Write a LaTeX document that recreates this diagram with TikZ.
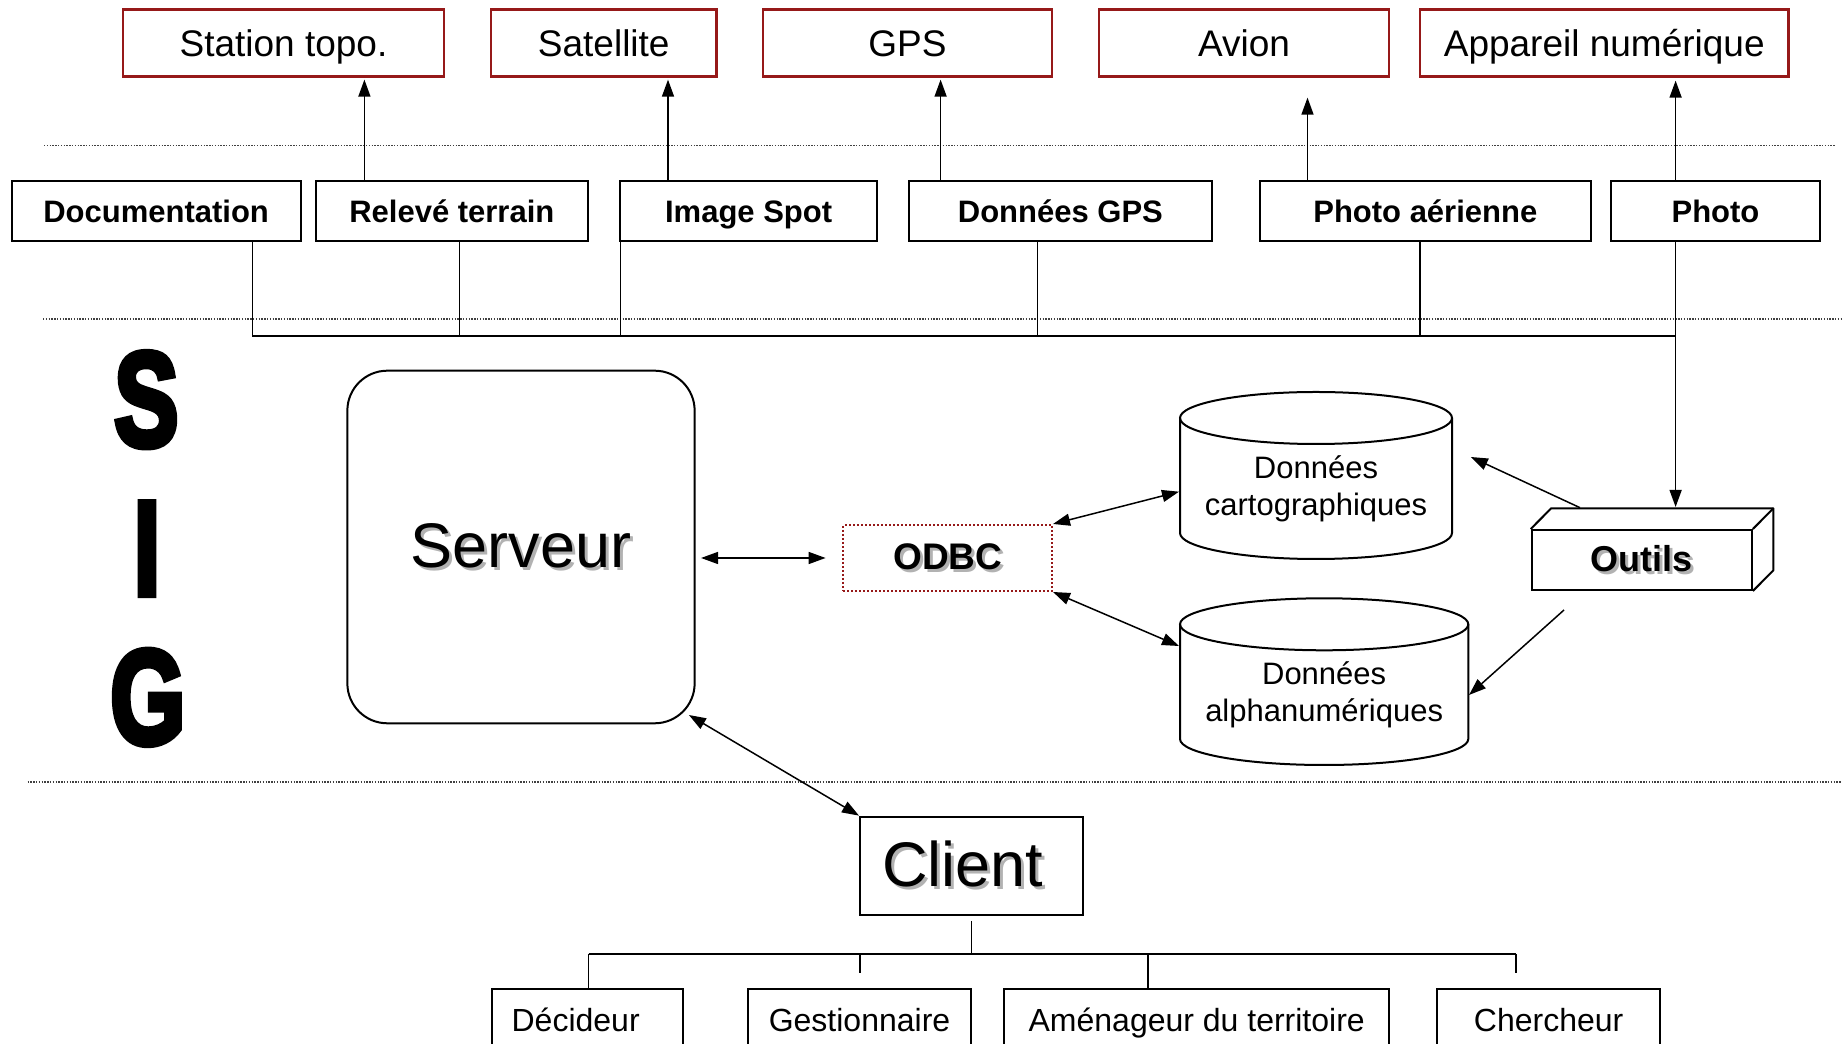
\documentclass[tikz,border=0pt]{standalone}
\usepackage{fontspec}
\setmainfont{Liberation Sans}
\newfontfamily\sigfont[FakeBold=5]{Liberation Sans Bold}
\usetikzlibrary{arrows.meta}
\definecolor{dred}{RGB}{150,25,25}
\newcommand\shtext[1]{\rlap{\hspace{3pt}\raisebox{-3pt}{\textcolor{black!30}{#1}}}#1}
\begin{document}
\begin{tikzpicture}[x=1pt,y=1pt,
  redbox/.style={draw=dred, line width=2.5pt, minimum height=67pt, inner sep=0pt, text height=27.6pt, text depth=0pt, font=\fontsize{37}{44}\selectfont},
  srcbox/.style={draw, line width=2pt, minimum height=59.7pt, inner sep=0pt, text height=23.7pt, text depth=0pt, font=\fontsize{31}{37}\selectfont\bfseries},
  userbox/.style={draw, line width=2pt, minimum height=64.7pt, inner sep=0pt, text height=20pt, text depth=0pt, font=\fontsize{32}{38}\selectfont},
  shape3d/.style={draw, line width=2pt},
  conn/.style={line width=1.5pt},
  arr/.style={conn, -{Triangle[length=17pt,width=12pt]}},
  darr/.style={conn, {Triangle[length=17pt,width=12pt]}-{Triangle[length=17pt,width=12pt]}},
  sep/.style={line width=1.3pt, black!75, dash pattern=on 1.4pt off 1.4pt},
  cyltext/.style={align=center, font=\fontsize{31}{37}\selectfont},
  sigl/.style={inner sep=0pt, font=\sigfont\fontsize{134}{134}\selectfont}
]
\useasboundingbox (0,0) rectangle (1842,1044);

% separators
\draw[sep] (44,898.3) -- (1835,898.3);
\draw[sep] (43,725) -- (1842,725);
\draw[sep] (27.5,262) -- (1842,262);

% SIG letters
\node[sigl] (sS) at (146.4,644.3) {\scalebox{0.72}[1]{S}};
\node[sigl] (sI) at (147,495.3) {\scalebox{0.72}[1]{I}};
\node[sigl] (sG) at (147.8,346.6) {\scalebox{0.72}[1]{G}};

% top devices
\node[redbox, minimum width=321pt] (st) at (283.5,1001.1) {Station topo.};
\node[redbox, minimum width=225.5pt] (sat) at (603.75,1001.1) {Satellite};
\node[redbox, minimum width=289pt] (gps) at (907.5,1001.1) {GPS};
\node[redbox, minimum width=290pt] (av) at (1244,1001.1) {Avion};
\node[redbox, minimum width=368.5pt] (app) at (1604.25,1001.1) {Appareil numérique};

% sources
\node[srcbox, minimum width=288.8pt] (doc) at (156.1,833.15) {Documentation};
\node[srcbox, minimum width=272.3pt] (rel) at (451.85,833.15) {Relevé terrain};
\node[srcbox, minimum width=256.7pt] (img) at (748.65,833.15) {Image Spot};
\node[srcbox, minimum width=303.8pt] (gpsd) at (1060.4,833.15) {Données GPS};
\node[srcbox, minimum width=330.6pt] (pha) at (1425.3,833.15) {Photo aérienne};
\node[srcbox, minimum width=209pt] (ph) at (1715.5,833.15) {Photo};

% arrows up
\coordinate (u1) at (364.4,0);
\coordinate (u2) at (668,0);
\coordinate (u3) at (940.6,0);
\coordinate (u4) at (1307.5,0);
\coordinate (u5) at (1675.6,0);
\draw[arr, shorten >=2pt] (rel.north -| u1) -- (st.south -| u1);
\draw[arr, shorten >=2pt] (img.north -| u2) -- (sat.south -| u2);
\draw[arr, shorten >=2pt] (gpsd.north -| u3) -- (gps.south -| u3);
\draw[arr, shorten >=20pt] (pha.north -| u4) -- (av.south -| u4);
\draw[arr, shorten >=3pt] (ph.north -| u5) -- (app.south -| u5);

% bus
\coordinate (c1) at (252.3,708);
\coordinate (c2) at (459.5,708);
\coordinate (c3) at (620.3,708);
\coordinate (c4) at (1037.6,708);
\coordinate (c5) at (1420,708);
\coordinate (c6) at (1675.6,708);
\draw[conn] (c1) -- (c6);
\draw[conn] (doc.south -| c1) -- (c1);
\draw[conn] (rel.south -| c2) -- (c2);
\draw[conn] (img.south -| c3) -- (c3);
\draw[conn] (gpsd.south -| c4) -- (c4);
\draw[conn] (pha.south -| c5) -- (c5);

% server
\node[draw, line width=2pt, rounded corners=40pt, minimum width=347.3pt, minimum height=352.6pt,
      font=\fontsize{63}{70}\selectfont] (srv) at (521,497) {\shtext{Serveur}};

% ODBC
\node[draw=dred, line width=2pt, dash pattern=on 2pt off 2pt, minimum width=208.6pt, minimum height=66pt,
      inner sep=0pt, font=\fontsize{37}{44}\selectfont\bfseries] (odbc) at (947.7,486) {\shtext{ODBC}};

% cylinders
\draw[shape3d] (1180,626) -- (1180,511) arc[start angle=180, end angle=360, x radius=136pt, y radius=26pt] -- (1452,626);
\draw[shape3d] (1316,626) ellipse[x radius=136pt, y radius=26pt];
\node[cyltext] (cart) at (1316,555.6) {Données\\cartographiques};
\draw[shape3d] (1180,419.7) -- (1180,305) arc[start angle=180, end angle=360, x radius=144.15pt, y radius=26pt] -- (1468.3,419.7);
\draw[shape3d] (1324.15,419.7) ellipse[x radius=144.15pt, y radius=26pt];
\node[cyltext] (alpha) at (1324.15,349) {Données\\alphanumériques};
\coordinate (cartW) at (1179,552.3);
\coordinate (alphaW) at (1179,398);
\coordinate (cartE) at (1470.8,587);
\coordinate (alphaE) at (1469,349);

% Outils
\node[draw, line width=2pt, minimum width=220.2pt, minimum height=60pt, inner sep=0pt,
      font=\fontsize{36}{42}\selectfont\bfseries] (out) at (1641.8,484) {\shtext{Outils}};
\draw[shape3d, line join=round] (out.north west) -- ++(20.5,20.7) -- ([shift={(20.5,20.7)}]out.north east)
   -- ([shift={(20.5,20.7)}]out.south east) -- (out.south east);
\draw[shape3d] (out.north east) -- ++(20.5,20.7);
\coordinate (outTop) at (1675.6,537);
\coordinate (outTL) at (1580,536.3);
\coordinate (outB) at (1564,434);

\draw[conn] (ph.south -| c6) -- (c6);
\draw[arr] (c6) -- (outTop);
\draw[arr] (outTL) -- (cartE);
\draw[arr] (outB) -- (alphaE);

\draw[darr] (odbc.north east) -- (cartW);
\draw[darr] (odbc.south east) -- (alphaW);
\draw[darr, shorten <=5.4pt, shorten >=16.8pt] (srv.east |- odbc.west) -- (odbc.west);

% client
\node[draw, line width=2pt, minimum width=223.4pt, minimum height=98.3pt, inner sep=0pt,
      font=\fontsize{63}{70}\selectfont] (cli) at (971.7,178.2) {\shtext{Client}\rule{18pt}{0pt}};
\coordinate (srvC) at (688.9,329);
\draw[darr] (srvC) -- (cli.north west);

% users
\node[userbox, minimum width=191.3pt] (dec) at (587.65,22.35) {Décideur\rule{24pt}{0pt}};
\node[userbox, minimum width=223.6pt] (ges) at (859.5,22.35) {Gestionnaire};
\node[userbox, minimum width=384.6pt] (ame) at (1196.7,22.35) {Aménageur du territoire};
\node[userbox, minimum width=223.6pt] (che) at (1548.6,22.35) {Chercheur};

\coordinate (bL) at (588.6,90);
\coordinate (bR) at (1516,90);
\coordinate (bG) at (860,90);
\coordinate (bA) at (1148,90);
\draw[conn] (bL) -- (bR);
\draw[conn] ([yshift=-5pt]cli.south) -- (cli.south |- bL);
\draw[conn] (bL) -- (dec.north -| bL);
\draw[conn] (bG) -- ++(0,-18.7);
\draw[conn] (bA) -- (ame.north -| bA);
\draw[conn] (bR) -- ++(0,-18.7);
\end{tikzpicture}
\end{document}
